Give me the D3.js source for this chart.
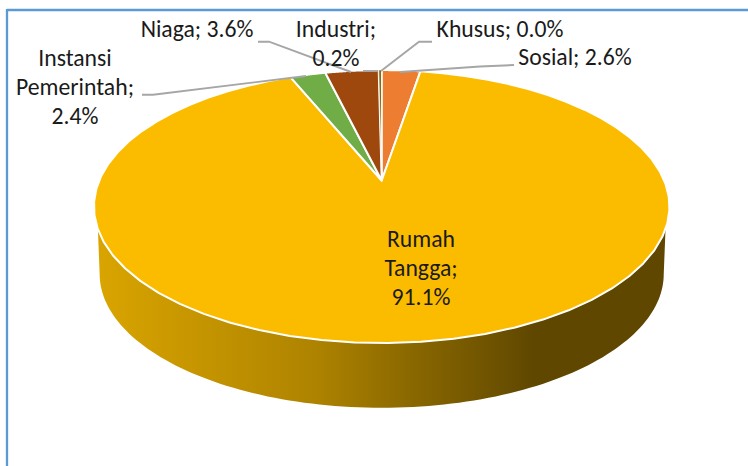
<!DOCTYPE html>
<html><head><meta charset="utf-8">
<script src="https://cdn.jsdelivr.net/npm/d3@7/dist/d3.min.js"></script>
<style>html,body{margin:0;padding:0;background:#fff}svg{display:block}</style>
</head><body><svg id="c" width="748" height="466"></svg>
<script>
const categories = ["Sosial","Rumah Tangga","Instansi Pemerintah","Niaga","Industri","Khusus"];
const values = [2.6,91.1,2.4,3.6,0.2,0.0];
const colors = ["#ED7D31","#FBBC00","#70AD47","#9E480E","#8A6A10","#FFC000"];
const labelLines = [["Sosial; 2.6%"],["Rumah","Tangga;","91.1%"],["Instansi","Pemerintah;","2.4%"],["Niaga; 3.6%"],["Industri;","0.2%"],["Khusus; 0.0%"]];
const labelPos = [[575,65],[421,246.5],[75,66],[197,37],[336,37],[500,37]];
const leaderPaths = [[[514,65],[480,66.5],[400,72]],null,[[142,94.7],[153,94.7],[306,76]],[[258,41.7],[269,41.7],[351,72]],[[363,71],[378,71]],[[432,41.7],[419,41.7],[381,71]]];

const svg = d3.select("#c");
const cx=381.7, cy=180.5, A=282.5, B=131.5, k=0.191;
const proj=(a,s=1,dy=0)=>{const X=Math.sin(a),Y=Math.cos(a),w=1+k*Y;return [cx+s*A*X/w, cy+dy-s*B*Y/w];};
const pie=d3.pie().sort(null).value(d=>d);
const arcs=pie(values);
const line=d3.line();
const sample=(a0,a1)=>d3.range(0,61).map(i=>proj(a0+(a1-a0)*i/60));

const g=svg.append("defs").append("linearGradient").attr("id","side").attr("gradientUnits","userSpaceOnUse")
 .attr("x1",95).attr("x2",535).attr("y1",0).attr("y2",0);
[[0,"#DAA500"],[0.5,"#AE8300"],[0.75,"#856400"],[1,"#5F4700"]].forEach(s=>g.append("stop").attr("offset",s[0]).attr("stop-color",s[1]));

// side wall: front part of the top rim joined to the front part of a slightly narrower lower rim
const widest=Math.acos(-k);
const turn=d3.range(0,121).map(i=>widest+(2*Math.PI-2*widest)*i/120);
const rim=turn.map(a=>proj(a)).filter(p=>p[1]>=228);
const low=turn.map(a=>proj(a,0.98,68)).reverse();
svg.append("path").attr("d",line(rim.concat(low))+"Z").attr("fill","url(#side)");

// top face
arcs.forEach((d,i)=>{
  svg.append("path").attr("d",line([[cx,cy],...sample(d.startAngle,d.endAngle)])+"Z")
    .attr("fill",colors[i]).attr("stroke","#fff").attr("stroke-width",i==4||i==5?0.7:2).attr("stroke-linejoin","round");
});

// frame
const frame=svg.append("g").attr("fill","none").attr("stroke","#5B9BD5").attr("stroke-width",2.3);
frame.append("line").attr("x1",7).attr("y1",10).attr("x2",748).attr("y2",10);
frame.append("line").attr("x1",7).attr("y1",9).attr("x2",7).attr("y2",466);

// leaders
leaderPaths.forEach(p=>{ if(p) svg.append("path").attr("d",line(p)).attr("fill","none").attr("stroke","#A6A6A6").attr("stroke-width",1.9); });

// labels
labelLines.forEach((ls,i)=>{
  const t=svg.append("text").attr("text-anchor","middle").attr("font-family","Carlito, 'Open Sans', 'Noto Sans', sans-serif").attr("font-size",23.7).attr("fill","#1a1a1a");
  ls.forEach((s,j)=>t.append("tspan").attr("x",labelPos[i][0]).attr("y",labelPos[i][1]+j*29).text(s));
});
</script></body></html>
